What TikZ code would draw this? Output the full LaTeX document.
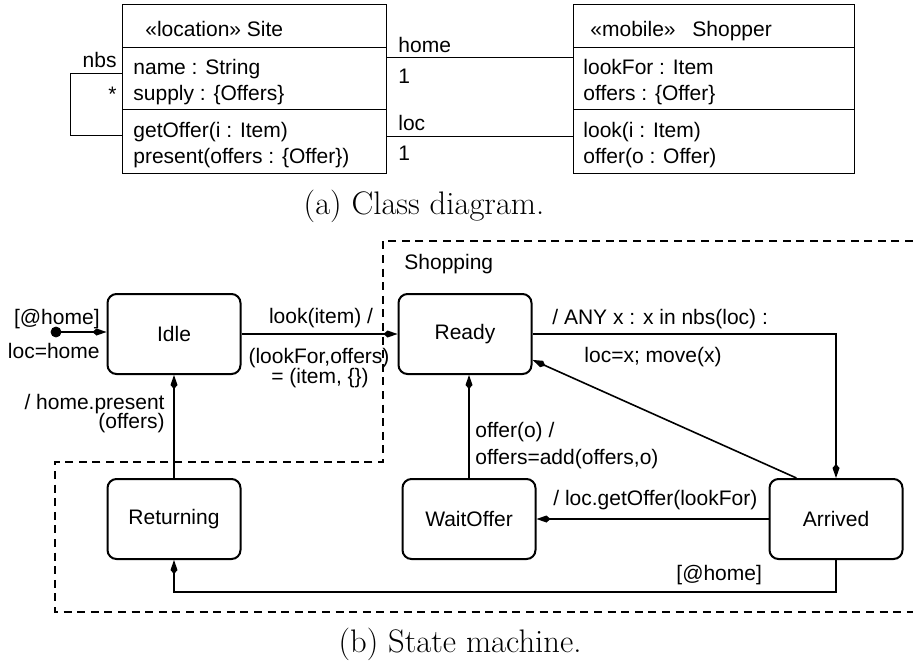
\documentclass[tikz,border=0pt]{standalone}
\usepackage{fontspec}
\newfontfamily\umlfont{Liberation Sans}
\usetikzlibrary{arrows.meta, positioning}

\begin{document}
\begin{tikzpicture}[x=0.5pt, y=-0.5pt, >={Kite[length=7pt, width=3.5pt, inset=2pt]},
        font=\umlfont\fontsize{10.5}{12.6}\selectfont]
        % Estilos para clases, estados y transiciones
        \tikzstyle{compartment} = [draw, line width=0.5pt, rectangle, inner sep=0pt, outer sep=0pt]
        \tikzstyle{classtext} = [anchor=base west, inner sep=0pt]
        \tikzstyle{state} = [draw, line width=1pt, rectangle, rounded corners=4.5pt, minimum width=66.5pt, minimum height=40pt]
        \tikzstyle{initial} = [draw, fill, circle, minimum size=5pt, inner sep=0pt]
        \tikzstyle{trans} = [line width=0.8pt]
        \tikzstyle{label} = [inner sep=0pt]
        \tikzstyle{caption} = [font=\rmfamily\fontsize{16.3}{19}\selectfont, anchor=base, inner sep=0pt]

        \useasboundingbox (0,0) rectangle (913,664);

        % Class diagram: nodes
        \node [compartment, minimum width=132pt, minimum height=21.5pt, anchor=north west] (sitehead) at (122,4) {};
        \node [compartment, minimum width=132pt, minimum height=31pt, below=0pt of sitehead] (siteattr) {};
        \node [compartment, minimum width=132pt, minimum height=32pt, below=0pt of siteattr] (siteops) {};
        \node [compartment, minimum width=140.5pt, minimum height=21.5pt, anchor=north west] (shophead) at (573,4) {};
        \node [compartment, minimum width=140.5pt, minimum height=31pt, below=0pt of shophead] (shopattr) {};
        \node [compartment, minimum width=140.5pt, minimum height=32pt, below=0pt of shopattr] (shopops) {};

        \node [classtext] (sitename) at (145,36) {«location» Site};
        \node [classtext] (siteattr1) at (133,74) {name : String};
        \node [classtext] (siteattr2) at (133,100) {supply : \{Offers\}};
        \node [classtext] (siteop1) at (133,137) {getOffer(i : Item)};
        \node [classtext] (siteop2) at (133,163) {present(offers : \{Offer\})};
        \node [classtext] (shopstereo) at (590,36) {«mobile»};
        \node [classtext] (shopname) at (692,36) {Shopper};
        \node [classtext] (shopattr1) at (583,74) {lookFor : Item};
        \node [classtext] (shopattr2) at (583,100) {offers : \{Offer\}};
        \node [classtext] (shopop1) at (583,137) {look(i : Item)};
        \node [classtext] (shopop2) at (583,163) {offer(o : Offer)};

        \node [classtext] (homerole) at (398,52) {home};
        \node [classtext] (homemult) at (398,83) {1};
        \node [classtext] (locrole) at (398,130) {loc};
        \node [classtext] (locmult) at (398,160) {1};
        \node [classtext, anchor=base east] (nbsrole) at (117,67) {nbs};
        \node [classtext, anchor=base east] (nbsmult) at (117,101) {*};

        % Class diagram: lines
        \coordinate (homeSite) at ([yshift=-5pt]siteattr.north east);
        \coordinate (homeShop) at ([yshift=-5pt]shopattr.north west);
        \coordinate (locSite) at ([yshift=-13.5pt]siteops.north east);
        \coordinate (locShop) at ([yshift=-13.5pt]shopops.north west);
        \draw [line width=0.5pt] (homeSite) -- (homeShop);
        \draw [line width=0.5pt] (locSite) -- (locShop);
        \draw [line width=0.5pt] ([yshift=-13pt]siteattr.north west) -- ++(-52,0) |- ([yshift=-13pt]siteops.north west);

        \node [caption] (capA) at (424,214) {(a) Class diagram.};

        % State machine: region
        \draw [dash pattern=on 4pt off 2.8pt, line width=0.75pt] (913,241) -- (383,241) -- (383,462) -- (55,462) -- (55,612) -- (913,612);
        \node [classtext] (shopping) at (404,269) {Shopping};

        % State machine: nodes
        \node [state] (idle) at (174,334) {Idle};
        \node [state, on grid, right=145.5pt of idle] (ready) {Ready};
        \node [state, on grid, below=92.5pt of idle] (returning) {Returning};
        \node [state] (waitoffer) at (469,519) {WaitOffer};
        \node [state] (arrived) at (836,519) {Arrived};
        \node [initial] (init) at (56,332) {};

        % State machine: labels
        \node [label, anchor=base east] (inithome) at (100,324) {[@home]};
        \node [label, anchor=base east] (initloc) at (100,358) {loc=home};
        \node [label, anchor=base] (lookA) at (321,323) {look(item) /};
        \node [label, anchor=base] (lookB) at (319,363) {(lookFor,offers)};
        \node [label, anchor=base] (lookC) at (320,383) {= (item, \{\})};
        \node [label, anchor=base east] (presentA) at (165,409) {/ home.present};
        \node [label, anchor=base east] (presentB) at (165,428) {(offers)};
        \node [label, anchor=base west] (anyA) at (552,324) {/ ANY x : x in nbs(loc) :};
        \node [label, anchor=base west] (anyB) at (584,362) {loc=x; move(x)};
        \node [label, anchor=base west] (offerA) at (475,437) {offer(o) /};
        \node [label, anchor=base west] (offerB) at (475,464) {offers=add(offers,o)};
        \node [label, anchor=base west] (getoffer) at (553,505) {/ loc.getOffer(lookFor)};
        \node [label, anchor=base west] (athome) at (676,580) {[@home]};

        % State machine: lines
        \draw [trans, ->] (init) -- (idle.west |- init);
        \draw [trans, ->] (idle) -- (ready);
        \draw [trans, ->] (returning) -- (idle);
        \draw [trans, ->] (ready) -| (arrived);
        \draw [trans, ->] (arrived.134) -- (ready.-21);
        \draw [trans, ->] (waitoffer.north) -- (waitoffer.north |- ready.south);
        \draw [trans, ->] (arrived) -- (waitoffer);
        \draw [trans, ->] (arrived.south) -- ++(0,32) -| (returning.south);

        \node [caption] (capB) at (460,652) {(b) State machine.};

      \end{tikzpicture}
\end{document}
